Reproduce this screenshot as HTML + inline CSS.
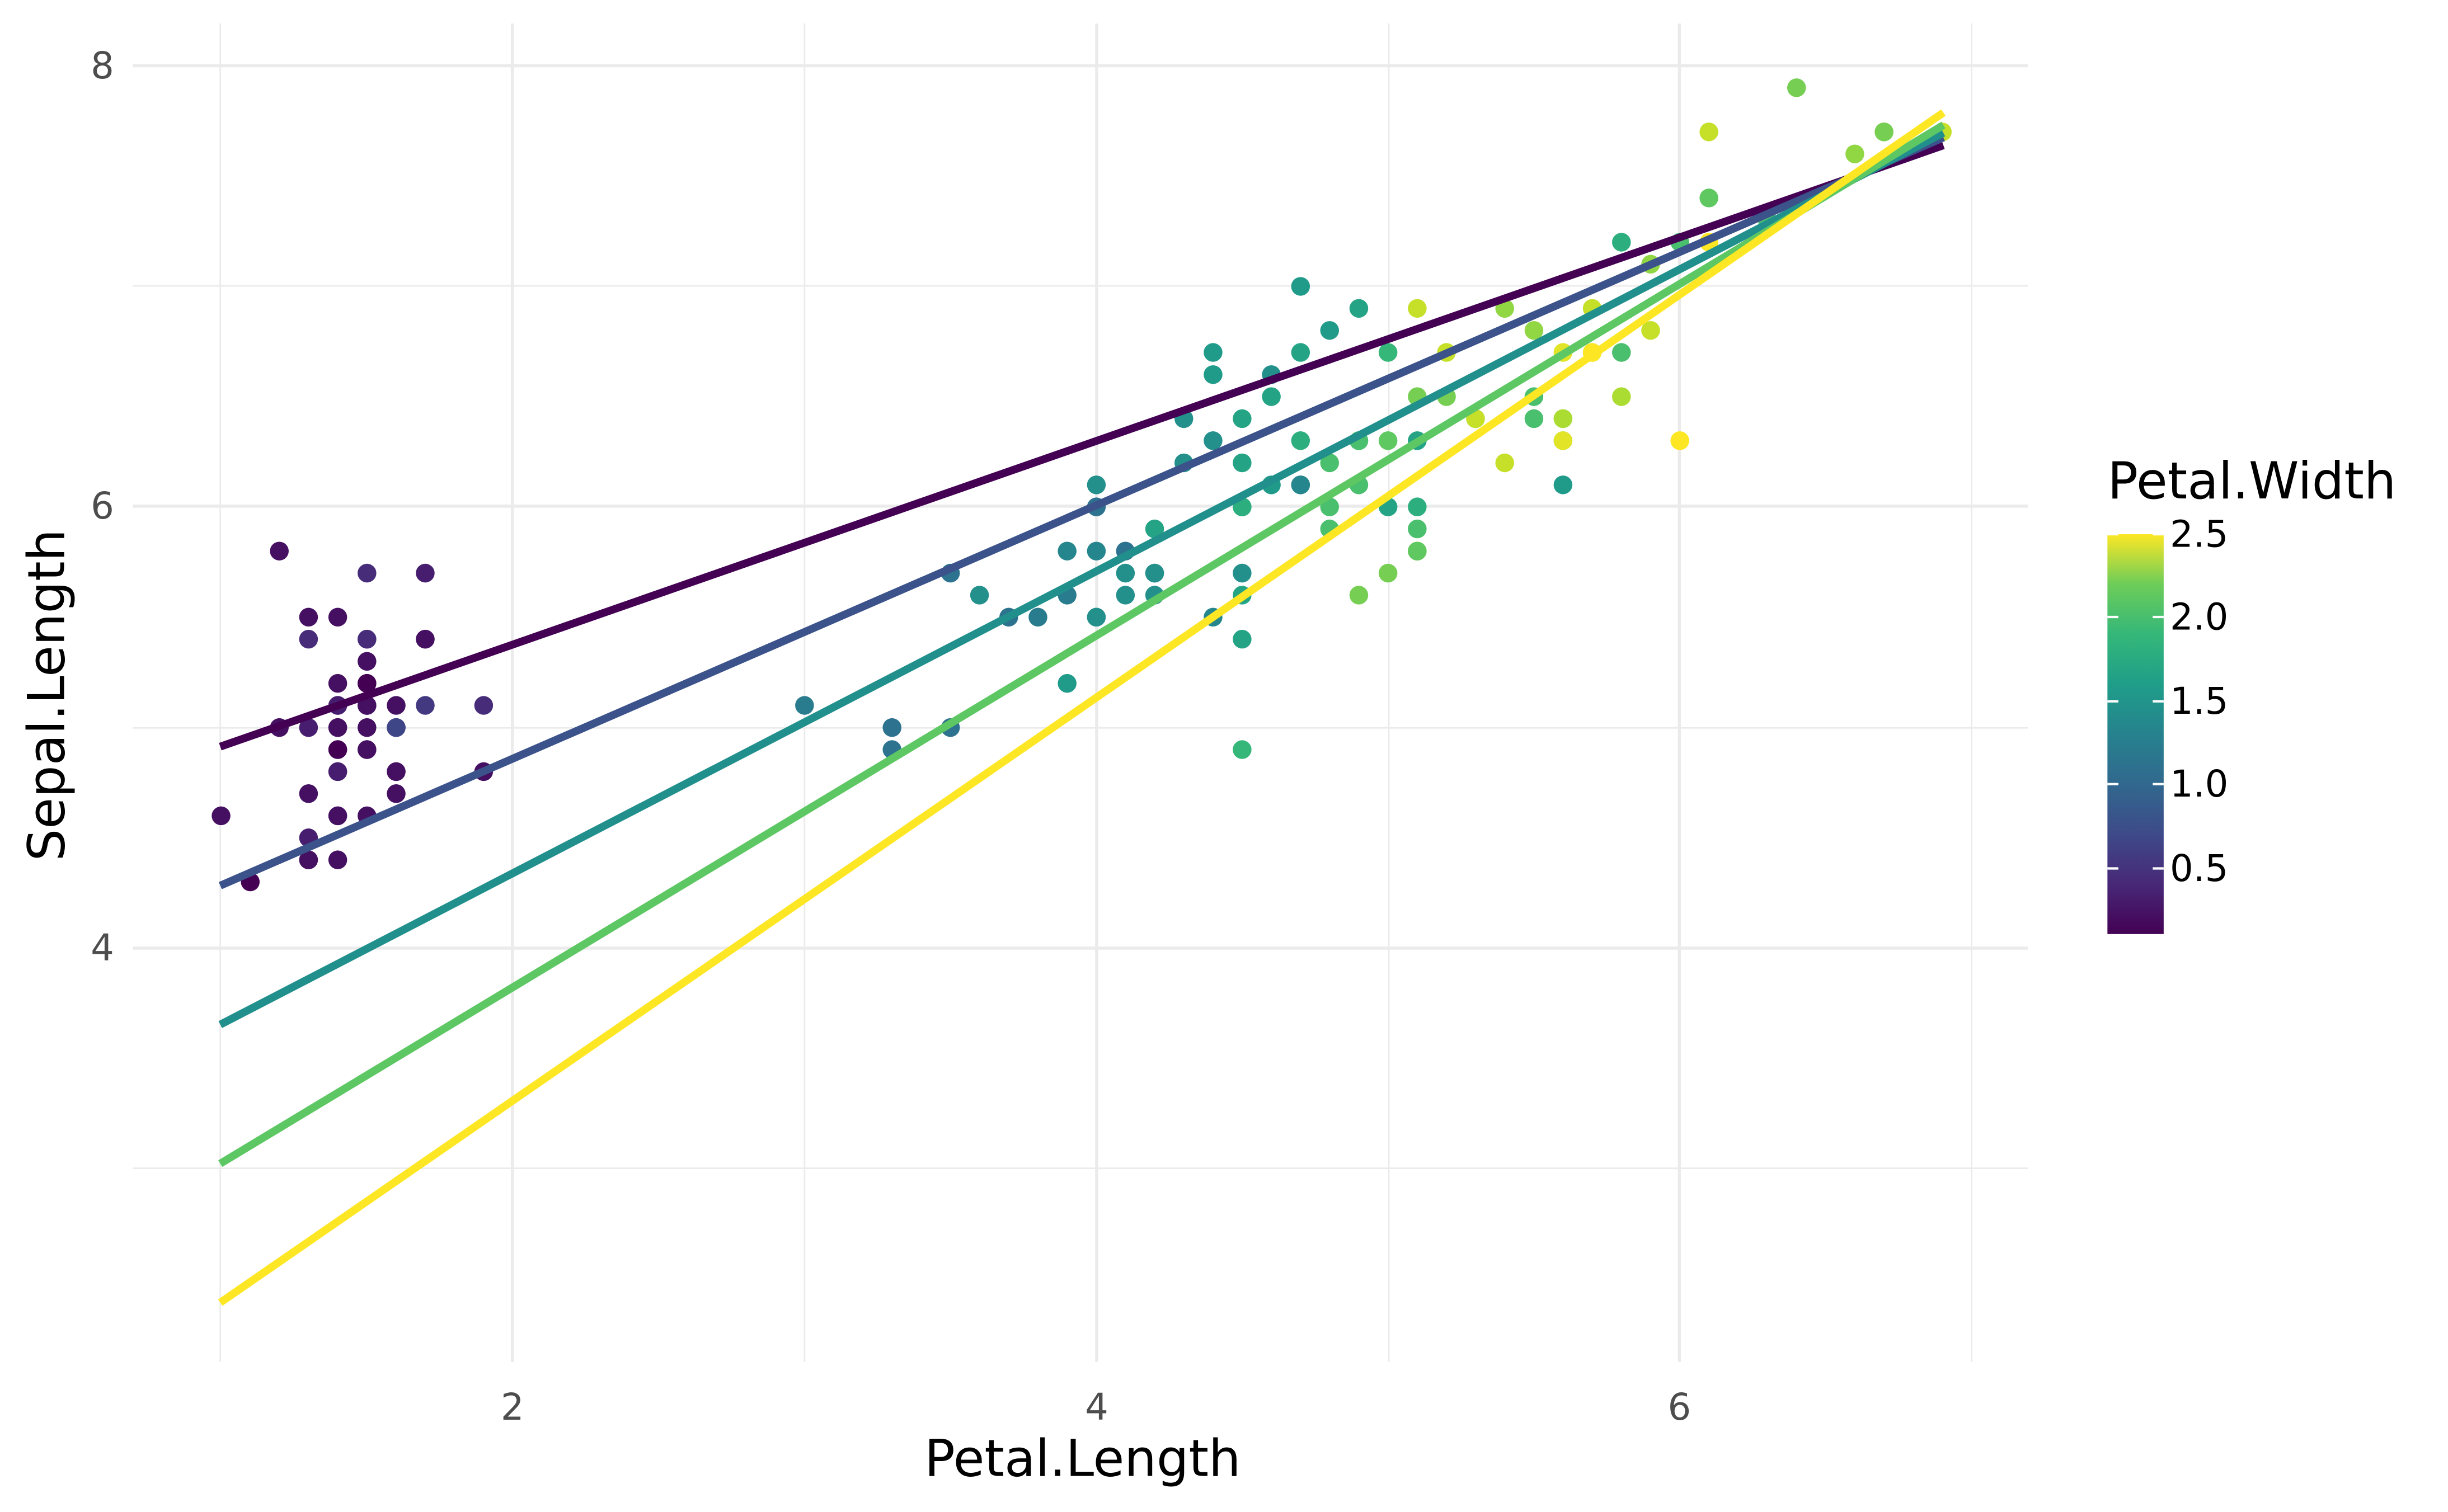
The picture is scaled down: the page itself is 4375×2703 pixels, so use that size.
<!DOCTYPE html>
<html><head><meta charset="utf-8"><style>
html,body{margin:0;padding:0;background:#fff;}
svg{display:block;}
text{font-family:"DejaVu Sans","Liberation Sans",sans-serif;}
</style></head><body>
<svg id="s" width="4375" height="2703" viewBox="0 0 1567 968" xmlns="http://www.w3.org/2000/svg">
<defs><linearGradient id="vg" x1="0" y1="1" x2="0" y2="0">
<stop offset="0" stop-color="#440154"/><stop offset="0.125" stop-color="#482878"/><stop offset="0.25" stop-color="#3E4A89"/><stop offset="0.375" stop-color="#31688E"/><stop offset="0.5" stop-color="#26828E"/><stop offset="0.625" stop-color="#1F9E89"/><stop offset="0.75" stop-color="#35B779"/><stop offset="0.875" stop-color="#6DCD59"/><stop offset="1" stop-color="#FDE725"/>
</linearGradient></defs>
<g stroke="#EBEBEB">
<g stroke-width="1">
<line x1="85" x2="1298" y1="748" y2="748"/><line x1="85" x2="1298" y1="466" y2="466"/><line x1="85" x2="1298" y1="183" y2="183"/>
<line y1="15" y2="872" x1="141" x2="141"/><line y1="15" y2="872" x1="515" x2="515"/><line y1="15" y2="872" x1="889" x2="889"/><line y1="15" y2="872" x1="1262" x2="1262"/>
</g>
<g stroke-width="2">
<line x1="85" x2="1298" y1="607" y2="607"/><line x1="85" x2="1298" y1="324" y2="324"/><line x1="85" x2="1298" y1="42" y2="42"/>
<line y1="15" y2="872" x1="328" x2="328"/><line y1="15" y2="872" x1="702" x2="702"/><line y1="15" y2="872" x1="1075" x2="1075"/>
</g></g>
<g id="pts"></g>
<g stroke-width="5" fill="none">
<line x1="141" y1="478" x2="1244" y2="93" stroke="#440154"/>
<line x1="141" y1="567" x2="1244" y2="88" stroke="#3B528B"/>
<line x1="141" y1="656" x2="1244" y2="85" stroke="#21908C"/>
<line x1="141" y1="745" x2="1244" y2="80" stroke="#5DC863"/>
<line x1="141" y1="834" x2="1244" y2="72" stroke="#FDE725"/>
</g>
<g fill="#4D4D4D" font-size="23.5">
<text x="73" y="50" text-anchor="end">8</text>
<text x="73" y="332" text-anchor="end">6</text>
<text x="73" y="615" text-anchor="end">4</text>
<text x="328" y="909" text-anchor="middle">2</text>
<text x="702" y="909" text-anchor="middle">4</text>
<text x="1075" y="909" text-anchor="middle">6</text>
</g>
<text x="693" y="945" font-size="32.5" text-anchor="middle" fill="#000">Petal.Length</text>
<text transform="translate(41,445) rotate(-90)" font-size="32.5" text-anchor="middle" fill="#000">Sepal.Length</text>
<text x="1349" y="319" font-size="32.5" fill="#000">Petal.Width</text>
<rect x="1349" y="342" width="36" height="256" fill="url(#vg)"/>
<g stroke="#fff" stroke-width="1.5">
<line x1="1349" x2="1356" y1="342" y2="342"/><line x1="1378" x2="1385" y1="342" y2="342"/>
<line x1="1349" x2="1356" y1="395" y2="395"/><line x1="1378" x2="1385" y1="395" y2="395"/>
<line x1="1349" x2="1356" y1="449" y2="449"/><line x1="1378" x2="1385" y1="449" y2="449"/>
<line x1="1349" x2="1356" y1="502" y2="502"/><line x1="1378" x2="1385" y1="502" y2="502"/>
<line x1="1349" x2="1356" y1="556" y2="556"/><line x1="1378" x2="1385" y1="556" y2="556"/>
</g>
<g font-size="23.5" fill="#000">
<text x="1389" y="350">2.5</text><text x="1389" y="403">2.0</text><text x="1389" y="457">1.5</text><text x="1389" y="510">1.0</text><text x="1389" y="564">0.5</text>
</g>
</svg>
<script>
var d=[[5.1,1.4,.2],[4.9,1.4,.2],[4.7,1.3,.2],[4.6,1.5,.2],[5,1.4,.2],[5.4,1.7,.4],[4.6,1.4,.3],[5,1.5,.2],[4.4,1.4,.2],[4.9,1.5,.1],[5.4,1.5,.2],[4.8,1.6,.2],[4.8,1.4,.1],[4.3,1.1,.1],[5.8,1.2,.2],[5.7,1.5,.4],[5.4,1.3,.4],[5.1,1.4,.3],[5.7,1.7,.3],[5.1,1.5,.3],[5.4,1.7,.2],[5.1,1.5,.4],[4.6,1,.2],[5.1,1.7,.5],[4.8,1.9,.2],[5,1.6,.2],[5,1.6,.4],[5.2,1.5,.2],[5.2,1.4,.2],[4.7,1.6,.2],[4.8,1.6,.2],[5.4,1.5,.4],[5.2,1.5,.1],[5.5,1.4,.2],[4.9,1.5,.2],[5,1.2,.2],[5.5,1.3,.2],[4.9,1.4,.1],[4.4,1.3,.2],[5.1,1.5,.2],[5,1.3,.3],[4.5,1.3,.3],[4.4,1.3,.2],[5,1.6,.6],[5.1,1.9,.4],[4.8,1.4,.3],[5.1,1.6,.2],[4.6,1.4,.2],[5.3,1.5,.2],[5,1.4,.2],
[7,4.7,1.4],[6.4,4.5,1.5],[6.9,4.9,1.5],[5.5,4,1.3],[6.5,4.6,1.5],[5.7,4.5,1.3],[6.3,4.7,1.6],[4.9,3.3,1],[6.6,4.6,1.3],[5.2,3.9,1.4],[5,3.5,1],[5.9,4.2,1.5],[6,4,1],[6.1,4.7,1.4],[5.6,3.6,1.3],[6.7,4.4,1.4],[5.6,4.5,1.5],[5.8,4.1,1],[6.2,4.5,1.5],[5.6,3.9,1.1],[5.9,4.8,1.8],[6.1,4,1.3],[6.3,4.9,1.5],[6.1,4.7,1.2],[6.4,4.3,1.3],[6.6,4.4,1.4],[6.8,4.8,1.4],[6.7,5,1.7],[6,4.5,1.5],[5.7,3.5,1],[5.5,3.8,1.1],[5.5,3.7,1],[5.8,3.9,1.2],[6,5.1,1.6],[5.4,4.5,1.5],[6,4.5,1.6],[6.7,4.7,1.5],[6.3,4.4,1.3],[5.6,4.1,1.3],[5.5,4,1.3],[5.5,4.4,1.2],[6.1,4.6,1.4],[5.8,4,1.2],[5,3.3,1],[5.6,4.2,1.3],[5.7,4.2,1.2],[5.7,4.2,1.3],[6.2,4.3,1.3],[5.1,3,1.1],[5.7,4.1,1.3],
[6.3,6,2.5],[5.8,5.1,1.9],[7.1,5.9,2.1],[6.3,5.6,1.8],[6.5,5.8,2.2],[7.6,6.6,2.1],[4.9,4.5,1.7],[7.3,6.3,1.8],[6.7,5.8,1.8],[7.2,6.1,2.5],[6.5,5.1,2],[6.4,5.3,1.9],[6.8,5.5,2.1],[5.7,5,2],[5.8,5.1,2.4],[6.4,5.3,2.3],[6.5,5.5,1.8],[7.7,6.7,2.2],[7.7,6.9,2.3],[6,5,1.5],[6.9,5.7,2.3],[5.6,4.9,2],[7.7,6.7,2],[6.3,4.9,1.8],[6.7,5.7,2.1],[7.2,6,1.8],[6.2,4.8,1.8],[6.1,4.9,1.8],[6.4,5.6,2.1],[7.2,5.8,1.6],[7.4,6.1,1.9],[7.9,6.4,2],[6.4,5.6,2.2],[6.3,5.1,1.5],[6.1,5.6,1.4],[7.7,6.1,2.3],[6.3,5.6,2.4],[6.4,5.5,1.8],[6,4.8,1.8],[6.9,5.4,2.1],[6.7,5.6,2.4],[6.9,5.1,2.3],[5.8,5.1,1.9],[6.8,5.9,2.3],[6.7,5.7,2.5],[6.7,5.2,2.3],[6.3,5,1.9],[6.5,5.2,2],[6.2,5.4,2.3],[5.9,5.1,1.8]];
var V=[[68,1,84],[72,40,120],[62,74,137],[49,104,142],[38,130,142],[31,158,137],[53,183,121],[109,205,89],[180,222,44],[253,231,37]];
function col(t){t=Math.max(0,Math.min(1,t))*9;var i=Math.min(8,Math.floor(t)),f=t-i,a=V[i],b=V[i+1];return'rgb('+[0,1,2].map(function(k){return Math.round(a[k]+(b[k]-a[k])*f)}).join(',')+')';}
var g=document.getElementById('pts'),h='';
d.forEach(function(p){var x=141.5+(p[1]-1)*186.75,y=42+(8-p[0])*141.25;h+='<circle cx="'+x.toFixed(1)+'" cy="'+y.toFixed(1)+'" r="6" fill="'+col((p[2]-.1)/2.4)+'"/>';});
g.innerHTML=h;
</script>
</body></html>
